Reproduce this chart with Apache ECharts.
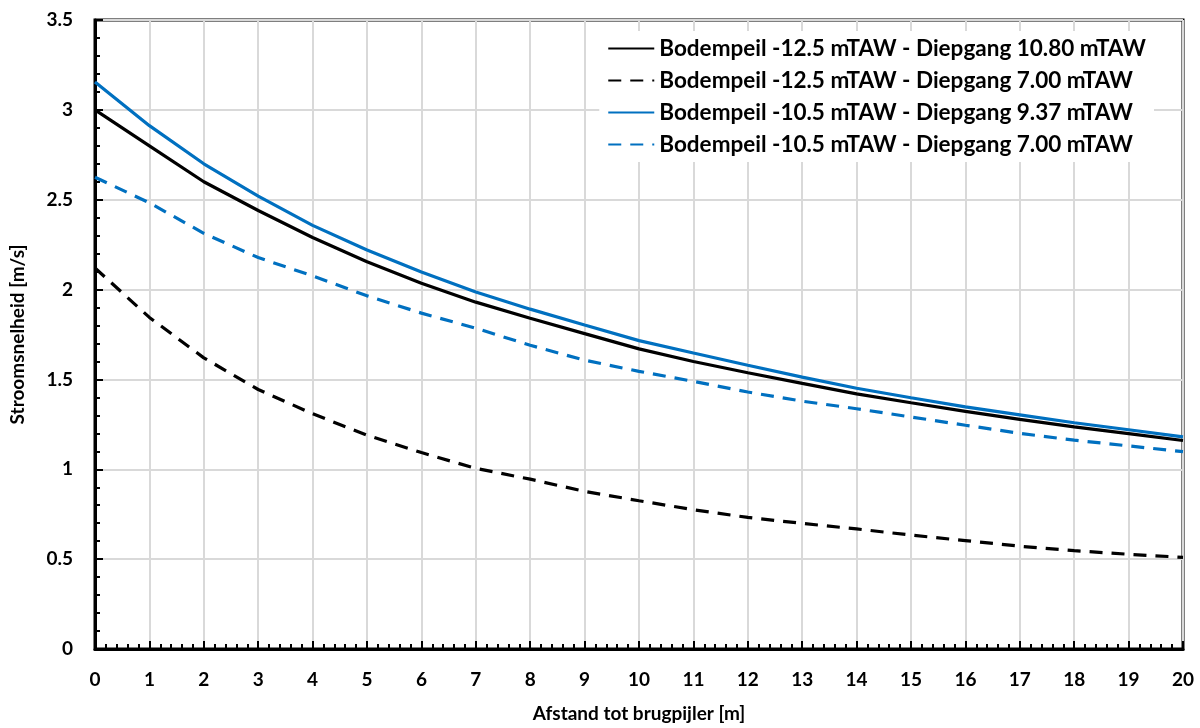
<!DOCTYPE html>
<html>
<head>
<meta charset="utf-8">
<script src="https://cdn.jsdelivr.net/npm/echarts@6/dist/echarts.min.js"></script>
<style>
  html, body { margin: 0; padding: 0; background: #fff; }
  #chart { width: 1200px; height: 728px; }
</style>
</head>
<body>
<div id="chart"></div>
<script>
var distances = [0, 1, 2, 3, 4, 5, 6, 7, 8, 9, 10, 11, 12, 13, 14, 15, 16, 17, 18, 19, 20];

var seriesNames = [
  'Bodempeil -12.5 mTAW - Diepgang 10.80 mTAW',
  'Bodempeil -12.5 mTAW - Diepgang 7.00 mTAW',
  'Bodempeil -10.5 mTAW - Diepgang 9.37 mTAW',
  'Bodempeil -10.5 mTAW - Diepgang 7.00 mTAW'
];

var deep1080 = [3.00, 2.80, 2.60, 2.44, 2.29, 2.155, 2.035, 1.93, 1.84, 1.755, 1.67, 1.60, 1.537, 1.478, 1.42, 1.37, 1.322, 1.278, 1.236, 1.198, 1.16];
var deep700 = [2.12, 1.845, 1.62, 1.444, 1.309, 1.19, 1.093, 1.005, 0.945, 0.877, 0.825, 0.775, 0.732, 0.699, 0.668, 0.634, 0.603, 0.572, 0.547, 0.527, 0.51];
var shallow937 = [3.155, 2.912, 2.70, 2.52, 2.357, 2.22, 2.098, 1.986, 1.891, 1.803, 1.716, 1.647, 1.579, 1.513, 1.451, 1.398, 1.347, 1.303, 1.259, 1.22, 1.18];
var shallow700 = [2.625, 2.483, 2.313, 2.178, 2.076, 1.965, 1.869, 1.785, 1.69, 1.607, 1.545, 1.489, 1.43, 1.379, 1.337, 1.291, 1.245, 1.2, 1.162, 1.13, 1.098];

var blue = '#0070c0';
var font = 'Lato, "Open Sans", sans-serif';

function pairs(vals) {
  var out = [];
  for (var i = 0; i < distances.length; i++) out.push([distances[i], vals[i]]);
  return out;
}

function lineSeries(name, vals, color, dashed) {
  return {
    name: name,
    type: 'line',
    data: pairs(vals),
    showSymbol: false,
    symbol: 'none',
    lineStyle: { color: color, width: 3.2, type: dashed ? [13, 9] : 'solid' },
    itemStyle: { color: color }
  };
}

var chart = echarts.init(document.getElementById('chart'));
chart.setOption({
  animation: false,
  backgroundColor: '#fff',
  textStyle: { fontFamily: font },
  grid: {
    left: 93, right: 17, top: 20, bottom: 77,
    show: true,
    borderColor: '#000',
    borderWidth: 3,
    backgroundColor: 'transparent'
  },
  legend: {
    orient: 'vertical',
    right: 46,
    top: 31,
    itemWidth: 46,
    itemHeight: 14,
    itemGap: 9,
    backgroundColor: '#fff',
    padding: [6, 8, 6, 8],
    itemStyle: { opacity: 0 },
    textStyle: { fontFamily: font, fontSize: 22.5, fontWeight: 'bold', color: '#000' },
    data: seriesNames
  },
  xAxis: {
    type: 'value',
    min: 0,
    max: 20,
    interval: 1,
    name: 'Afstand tot brugpijler [m]',
    nameLocation: 'middle',
    nameGap: 55,
    nameTextStyle: { fontFamily: font, fontSize: 19, fontWeight: 'bold', color: '#000' },
    axisLine: { onZero: false, lineStyle: { color: '#000', width: 3 } },
    axisTick: { inside: true, length: 8, lineStyle: { color: '#000', width: 2 } },
    minorTick: { show: true, splitNumber: 5, length: 5, lineStyle: { color: '#000', width: 2 } },
    axisLabel: { fontFamily: font, fontSize: 19, fontWeight: 'bold', color: '#000', margin: 21 },
    splitLine: { show: true, lineStyle: { color: '#d9d9d9', width: 2 } }
  },
  yAxis: {
    type: 'value',
    min: 0,
    max: 3.5,
    interval: 0.5,
    name: 'Stroomsnelheid [m/s]',
    nameLocation: 'middle',
    nameGap: 68,
    nameTextStyle: { fontFamily: font, fontSize: 19, fontWeight: 'bold', color: '#000' },
    axisLine: { show: true, onZero: false, lineStyle: { color: '#000', width: 3 } },
    axisTick: { show: true, inside: true, length: 8, lineStyle: { color: '#000', width: 2 } },
    minorTick: { show: true, splitNumber: 5, length: 5, lineStyle: { color: '#000', width: 2 } },
    axisLabel: { fontFamily: font, fontSize: 19, fontWeight: 'bold', color: '#000', margin: 22 },
    splitLine: { show: true, lineStyle: { color: '#d9d9d9', width: 2 } }
  },
  series: [
    lineSeries(seriesNames[0], deep1080, '#000', false),
    lineSeries(seriesNames[1], deep700, '#000', true),
    lineSeries(seriesNames[2], shallow937, blue, false),
    lineSeries(seriesNames[3], shallow700, blue, true)
  ]
});
</script>
</body>
</html>
